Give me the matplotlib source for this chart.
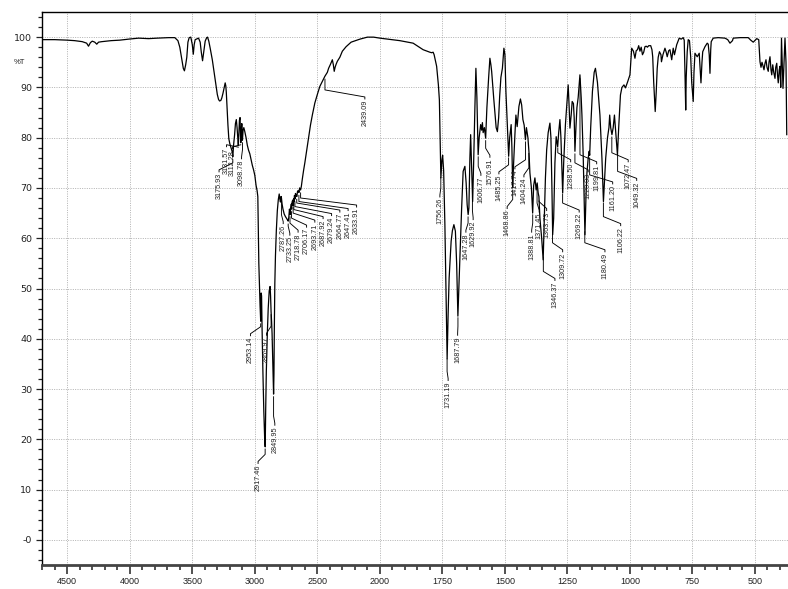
import numpy as np
import matplotlib
matplotlib.use("Agg")
import matplotlib.pyplot as plt
from matplotlib.ticker import FixedLocator, FuncFormatter

# ---------------- spectrum data (wavenumber cm-1, %T) ----------------
wn_a = [4702, 4600, 4500, 4440, 4380, 4345, 4330, 4315, 4300, 4280,
        4264, 4250, 4224, 4150, 4080, 4010, 3930, 3850, 3780, 3690, 3640]
t_a = [99.5, 99.5, 99.4, 99.3, 99.1, 98.8, 98.2, 98.9, 99.2, 99.0,
       98.6, 99.0, 99.1, 99.3, 99.4, 99.6, 99.8, 99.7, 99.8, 99.9, 99.9]

wn_b = [3615, 3600, 3585, 3572, 3563, 3553, 3544, 3535, 3525, 3512,
        3500, 3492, 3485, 3477, 3460, 3450, 3437, 3428, 3418, 3408,
        3397, 3385, 3378, 3368, 3357, 3340, 3330, 3315, 3300, 3290,
        3282, 3272, 3264, 3255, 3245, 3237]
t_b = [99.3, 98.0, 95.8, 93.8, 93.3, 94.5, 96.0, 99.0, 99.9, 100.0,
       98.5, 96.6, 98.5, 99.5, 99.7, 99.8, 99.0, 97.0, 95.3, 97.2,
       99.2, 99.9, 100.0, 99.2, 97.8, 95.5, 93.8, 91.2, 88.6, 87.6,
       87.3, 87.4, 87.9, 88.8, 90.0, 90.9]

wn_c = [3232, 3228, 3222, 3215, 3208, 3200, 3190, 3182, 3176, 3170,
        3162, 3155, 3148, 3142, 3136, 3132, 3128, 3123, 3118, 3115,
        3112, 3108, 3104, 3099, 3094, 3088, 3080, 3070, 3060, 3050,
        3040, 3030, 3020, 3010, 3000, 2990, 2982, 2976]
t_c = [90.3, 89.0, 86.0, 82.5, 79.8, 78.8, 78.0, 77.3, 76.2, 78.5,
       80.5, 82.8, 83.6, 82.0, 80.0, 78.5, 80.5, 83.5, 84.0, 81.0,
       79.0, 81.5, 82.8, 79.5, 81.5, 82.0, 81.2, 80.0, 78.5, 77.5,
       76.8, 75.6, 74.5, 73.6, 72.5, 70.5, 69.5, 68.3]

wn_d = [2972, 2968, 2963, 2958, 2955, 2953, 2951, 2949, 2946, 2942,
        2935, 2928, 2921, 2917, 2913, 2908, 2900, 2893, 2885, 2878,
        2874, 2870, 2866, 2862, 2858, 2853, 2850, 2847, 2844, 2840,
        2835, 2828, 2820, 2812, 2805, 2800, 2795, 2790, 2787, 2782,
        2775, 2765, 2755, 2747, 2740, 2733, 2728, 2723, 2718, 2713,
        2708, 2706, 2702, 2697, 2693, 2689, 2687, 2683, 2679, 2675,
        2670, 2664, 2658, 2652, 2647, 2642, 2638, 2634]
t_d = [62.0, 55.0, 50.5, 46.5, 44.5, 43.5, 47.0, 49.1, 48.5, 42.0,
       33.0, 25.5, 20.0, 18.5, 26.0, 33.5, 41.0, 46.0, 49.5, 50.4,
       48.5, 45.4, 43.5, 41.0, 37.0, 31.5, 29.0, 33.0, 42.0, 51.0,
       56.5, 61.5, 65.5, 67.7, 68.8, 67.8, 67.2, 68.3, 68.0, 66.8,
       65.8, 64.8, 64.3, 64.0, 63.7, 63.4, 64.2, 65.8, 64.7, 66.0,
       66.8, 65.8, 67.2, 67.6, 66.5, 67.9, 67.2, 68.5, 67.8, 68.9,
       68.6, 68.3, 69.4, 69.4, 69.1, 70.0, 69.8, 69.6]

wn_e = [2628, 2620, 2610, 2600, 2585, 2570, 2555, 2540, 2520, 2500,
        2480, 2460, 2440, 2420, 2410, 2395, 2380, 2372, 2365, 2358,
        2350, 2340, 2320, 2300, 2270, 2230, 2160, 2100, 2050, 2000]
t_e = [70.3, 71.8, 73.5, 75.0, 77.5, 80.0, 82.5, 84.5, 86.9, 88.6,
       90.2, 91.2, 92.2, 93.0, 93.8, 94.6, 95.5, 94.5, 93.2, 94.0,
       94.6, 95.2, 96.0, 97.2, 98.1, 99.0, 99.6, 100.0, 100.0, 99.8]

wn_f = [1920, 1867, 1827, 1800, 1793, 1787, 1783, 1773, 1766, 1762,
        1759, 1756, 1752, 1749, 1745, 1740, 1735, 1731, 1727, 1723,
        1715, 1710, 1704, 1698, 1693, 1688, 1684, 1680, 1673, 1667,
        1660, 1655, 1651, 1647, 1644, 1640, 1637, 1633, 1629, 1625,
        1620, 1616, 1612, 1607, 1603, 1597, 1593, 1590, 1587, 1582,
        1577, 1572, 1565, 1560, 1556, 1553, 1545, 1535, 1530, 1525,
        1521, 1516, 1510, 1504, 1500]
t_f = [99.3, 98.8, 97.5, 97.0, 96.9, 97.0, 96.5, 94.2, 90.5, 87.5,
       80.0, 72.0, 75.5, 76.5, 73.5, 62.7, 48.0, 36.0, 45.0, 52.1,
       59.4, 61.5, 62.7, 61.4, 55.0, 44.5, 50.0, 56.1, 66.0, 73.3,
       74.3, 71.0, 66.7, 64.7, 66.0, 76.0, 80.6, 74.0, 67.3, 75.0,
       86.0, 93.8, 88.0, 76.6, 80.0, 82.6, 81.5, 83.0, 81.0, 82.0,
       79.9, 86.0, 92.0, 95.8, 94.5, 93.2, 88.0, 82.0, 81.2, 84.0,
       88.2, 92.0, 93.8, 97.8, 96.5]

wn_g = [1496, 1490, 1485, 1481, 1475, 1472, 1469, 1466, 1460, 1456,
        1451, 1444, 1438, 1433, 1428, 1423, 1418, 1414, 1408, 1404,
        1400, 1394, 1389, 1385, 1380, 1375, 1371, 1367, 1364, 1360,
        1353, 1347, 1343, 1338, 1333, 1327, 1320, 1316, 1312, 1309,
        1305, 1300, 1295, 1289, 1285, 1280, 1276, 1272, 1269, 1265,
        1258, 1252, 1247, 1243, 1240, 1235, 1231, 1226, 1223, 1220,
        1216, 1212, 1207, 1200, 1195, 1192, 1187, 1183, 1180, 1176,
        1172, 1167, 1163, 1161, 1157, 1150, 1143, 1138, 1130, 1120,
        1112, 1106, 1102, 1097, 1090, 1084, 1081, 1077, 1072, 1067,
        1062, 1055, 1050, 1045, 1038, 1032, 1024, 1018, 1010, 1000]
t_g = [89.2, 82.0, 76.3, 80.0, 82.6, 78.0, 70.0, 74.0, 80.6, 84.5,
       82.2, 86.2, 87.7, 86.5, 83.6, 82.5, 79.6, 82.0, 80.0, 77.3,
       73.0, 70.0, 65.0, 70.5, 72.0, 69.6, 71.0, 69.0, 68.3, 64.0,
       60.0, 55.7, 63.0, 72.0, 77.6, 81.0, 82.9, 80.0, 70.0, 60.7,
       64.0, 75.0, 80.2, 78.2, 81.0, 83.6, 80.0, 74.0, 69.0, 75.0,
       82.6, 87.0, 90.5, 86.0, 81.9, 84.5, 87.2, 86.8, 84.0, 77.3,
       82.0, 86.0, 88.0, 92.5, 88.0, 84.5, 76.6, 68.0, 60.7, 68.0,
       73.0, 75.9, 77.3, 76.5, 82.0, 89.2, 93.0, 93.8, 91.0, 84.5,
       75.9, 67.3, 71.0, 75.9, 79.9, 82.0, 84.5, 82.0, 80.6, 82.0,
       84.5, 80.0, 76.6, 82.0, 88.5, 90.0, 90.5, 89.9, 91.0, 92.5]

wn_h = [993, 986, 980, 975, 970, 965, 960, 955, 950, 945,
        940, 935, 930, 925, 917, 912, 909, 905, 899, 895,
        891, 887, 882, 876, 874, 868, 860, 855, 851, 845,
        840, 833, 827, 822, 813, 803, 795, 787, 783, 780,
        777, 775, 771, 767, 762, 757, 753, 747, 744, 740,
        731, 723, 716, 712, 709, 700, 691, 687, 683, 680,
        677, 675, 667, 647, 620, 609, 600, 590, 587, 560,
        527, 517, 507, 497, 493, 485, 480, 476, 472, 469,
        464, 460, 456, 452, 447, 444, 440, 436, 433, 429,
        425, 420, 417, 413, 410, 407, 403, 400, 397, 394,
        391, 388, 384, 380, 376, 373]
t_h = [97.8, 97.2, 95.8, 97.3, 97.5, 98.3, 97.2, 98.0, 96.5, 97.0,
       98.1, 98.2, 98.0, 98.3, 98.3, 97.5, 96.1, 91.0, 85.2, 89.0,
       93.8, 96.0, 97.1, 96.5, 95.1, 96.5, 97.8, 97.0, 96.1, 97.3,
       97.5, 95.5, 97.8, 96.5, 98.5, 99.8, 99.6, 99.9, 99.4, 93.0,
       85.5, 92.0, 97.1, 99.5, 99.3, 96.0, 91.0, 87.2, 93.0, 96.8,
       96.1, 96.8, 90.9, 95.0, 97.1, 98.1, 98.8, 98.6, 96.5, 92.8,
       97.5, 99.1, 99.8, 99.9, 99.8, 99.5, 98.8, 99.3, 99.8, 99.9,
       99.9, 99.4, 99.0, 99.5, 99.7, 99.5, 95.1, 94.0, 95.0, 94.5,
       93.5, 94.8, 95.5, 94.0, 93.2, 95.0, 96.1, 93.5, 92.5, 94.5,
       93.0, 91.8, 94.0, 94.8, 92.5, 90.9, 93.5, 94.2, 90.0, 99.8,
       95.0, 89.8, 95.0, 99.8, 95.0, 80.6]

# ---------------- peak labels ----------------
peak_labels = ["3175.93", "3131.57", "3112.28", "3098.78", "2953.14", "2869.97",
               "2917.46", "2849.95", "2787.26", "2733.25", "2718.78", "2706.17",
               "2693.71", "2687.92", "2679.24", "2664.77", "2647.41", "2633.91",
               "2439.09", "1756.26", "1731.19", "1687.79", "1647.28", "1629.92",
               "1606.77", "1576.91", "1485.25", "1468.86", "1417.74", "1404.24",
               "1388.81", "1371.45", "1363.73", "1346.37", "1309.72", "1288.50",
               "1269.22", "1220.03", "1199.81", "1180.49", "1161.20", "1106.22",
               "1072.47", "1049.32"]

# layout of the label texts: x (cm-1) and top of text (%T)
label_x = [3286, 3226, 3178, 3106, 3035, 2906, 2974, 2840, 2773, 2720, 2654, 2586,
           2520, 2454, 2386, 2320, 2254, 2186, 2120, 1760, 1727, 1689, 1656, 1627,
           1596, 1560, 1524, 1491, 1460, 1424, 1393, 1363, 1333, 1300, 1269, 1237,
           1203, 1167, 1133, 1100, 1069, 1037, 1007, 973]
label_top = [73.0, 78.0, 77.6, 75.6, 40.4, 40.5, 15.0, 22.6, 62.7, 60.4, 61.0, 62.0,
             63.0, 63.7, 64.3, 65.0, 65.3, 66.0, 87.5, 68.0, 31.5, 40.5, 61.0, 63.5,
             72.3, 75.9, 72.6, 65.7, 73.6, 72.0, 61.0, 65.0, 65.3, 51.4, 57.1, 75.0,
             65.0, 73.0, 74.6, 57.1, 70.6, 62.3, 75.0, 71.3]

x_major = [4500, 4000, 3500, 3000, 2500, 2000, 1750, 1500, 1250, 1000, 750, 500]
y_major = [0, 10, 20, 30, 40, 50, 60, 70, 80, 90, 100]

wavenumber = np.array(wn_a + wn_b + wn_c + wn_d + wn_e + wn_f + wn_g + wn_h, float)
transmittance = np.array(t_a + t_b + t_c + t_d + t_e + t_f + t_g + t_h, float)


def fwd(x):
    x = np.asarray(x, float)
    return np.where(x > 2000, 2000 + (x - 2000) / 2.0, x)


def inv(y):
    y = np.asarray(y, float)
    return np.where(y > 2000, 2000 + (y - 2000) * 2.0, y)


plt.rcParams['font.family'] = ['Liberation Sans', 'DejaVu Sans']

fig = plt.figure(figsize=(7.88, 5.89), dpi=100)
ax = fig.add_axes([42 / 788, 24 / 589, 746 / 788, 553 / 589])
ax.set_xscale('function', functions=(fwd, inv))
ax.set_xlim(4702, 368)
ax.set_ylim(-5, 105)

ax.plot(wavenumber, transmittance, color='black', lw=0.9, zorder=3)

# ticks
x_minor = [v for v in list(range(4700, 2000, -100)) + list(range(1950, 350, -50))
           if v not in x_major]
ax.xaxis.set_major_locator(FixedLocator(x_major))
ax.xaxis.set_minor_locator(FixedLocator(x_minor))
ax.xaxis.set_major_formatter(FuncFormatter(lambda v, p: f"{int(round(v))}"))
ax.xaxis.set_minor_formatter(FuncFormatter(lambda v, p: ""))
ax.yaxis.set_major_locator(FixedLocator(y_major))
ax.yaxis.set_minor_locator(FixedLocator([v for v in range(-4, 106, 2) if v % 10 != 0]))
ax.yaxis.set_major_formatter(FuncFormatter(lambda v, p: "-0" if v == 0 else f"{int(v)}"))

ax.tick_params(axis='x', which='major', direction='out', length=6.5, width=1.2,
               color='#333333', labelsize=6.5, pad=2, labelcolor='#222222')
ax.tick_params(axis='x', which='minor', direction='out', length=3.8, width=1.2,
               color='#333333')
ax.tick_params(axis='y', which='major', direction='out', length=4, width=0.9,
               color='#222222', labelsize=6.8, pad=3, labelcolor='#222222')
ax.tick_params(axis='y', which='minor', direction='out', length=2.8, width=0.9,
               color='#222222')
for lab in ax.get_yticklabels():
    lab.set_family('DejaVu Sans')

ax.grid(which='major', color='#b0b0b0', linestyle=(0, (1, 1.4)), linewidth=0.7, zorder=0)

ax.spines['right'].set_visible(False)
ax.spines['top'].set_linewidth(1.0)
ax.spines['left'].set_linewidth(1.0)
ax.spines['bottom'].set_linewidth(2.0)
ax.spines['bottom'].set_color('#444444')

ax.text(-0.022, 94.9, '%T', transform=ax.get_yaxis_transform(), ha='right', va='center',
        fontsize=5.5, color='#222222')

# peak labels with leader lines
order = np.argsort(wavenumber)
wn_sorted = wavenumber[order]
t_sorted = transmittance[order]
for lab, xl, top in zip(peak_labels, label_x, label_top):
    wp = float(lab)
    tp = float(np.interp(wp, wn_sorted, t_sorted))
    start = tp - 0.6
    k1 = top + 2.0
    k2 = top + 0.6
    if start > k1:
        xs = [wp, wp, xl, xl]
        ys = [start, k1, k2, top + 0.2]
    else:
        xs = [wp, xl, xl]
        ys = [start, k2, top + 0.2]
    ax.plot(xs, ys, color='black', lw=0.65, zorder=4)
    ax.text(xl, top, lab, rotation=90, ha='center', va='top', fontsize=5.2,
            color='#222222', zorder=5)

fig.savefig('out.png', dpi=100)
